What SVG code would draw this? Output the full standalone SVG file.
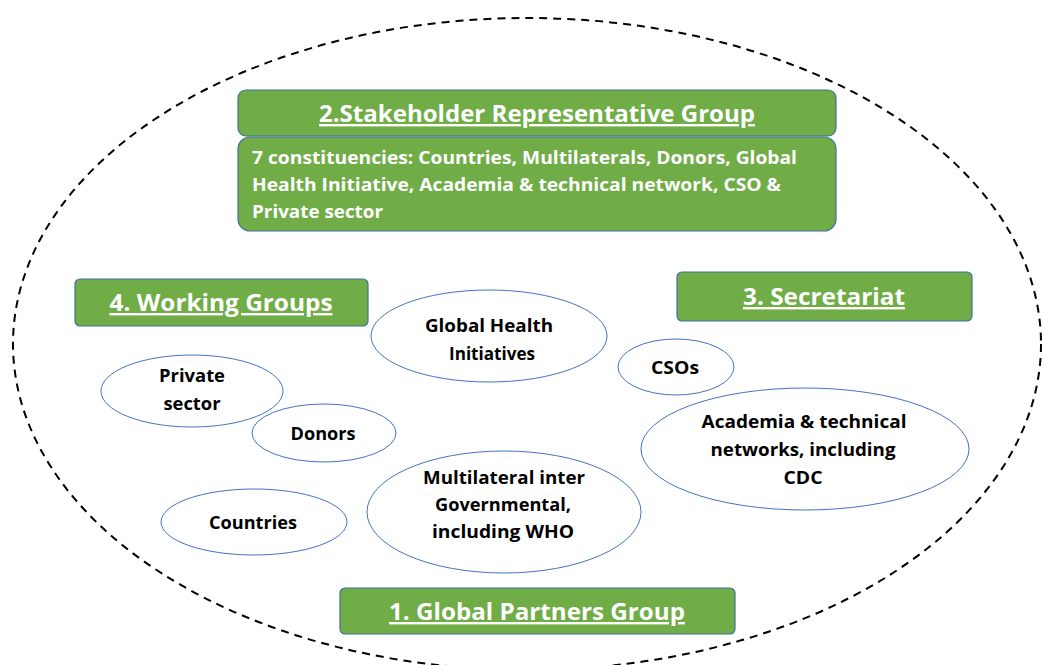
<svg xmlns="http://www.w3.org/2000/svg" width="1042" height="665" viewBox="0 0 1042 665">
<style>
.box{fill:#70AD47;stroke:#41719C;stroke-width:1.2}
.ttl{font-family:"Open Sans","Liberation Sans",sans-serif;font-weight:bold;font-size:24px;fill:#fff;text-anchor:middle;text-decoration:underline}
.body{font-family:"Open Sans","Liberation Sans",sans-serif;font-weight:bold;font-size:17.5px;fill:#fff}
.ell{fill:#fff;stroke:#4472C4;stroke-width:1}
.lbl{font-family:"Open Sans","Liberation Sans",sans-serif;font-weight:bold;font-size:18.5px;fill:#000;text-anchor:middle}
</style>
<rect width="1042" height="665" fill="#fff"/>
<g id="boundary">
<ellipse cx="527" cy="344" rx="514" ry="326" fill="none" stroke="#000" stroke-width="2" stroke-dasharray="8,6"/>
</g>
<g id="connectors"></g>
<g id="stakeholder">
<rect class="box" x="238" y="90" width="598" height="46" rx="8"/>
<text class="ttl" x="537" y="122" textLength="436" lengthAdjust="spacingAndGlyphs">2.Stakeholder Representative Group</text>
</g>
<g id="stakeholder-body">
<rect class="box" x="238" y="137" width="598" height="94" rx="12"/>
<text class="body" x="252" y="164" textLength="545" lengthAdjust="spacingAndGlyphs">7 constituencies: Countries, Multilaterals, Donors, Global</text>
<text class="body" x="252" y="191" textLength="529" lengthAdjust="spacingAndGlyphs">Health Initiative, Academia &amp; technical network, CSO &amp;</text>
<text class="body" x="252" y="218" textLength="131" lengthAdjust="spacingAndGlyphs">Private sector</text>
</g>
<g id="working-groups">
<rect class="box" x="75" y="279" width="293" height="47" rx="5"/>
<text class="ttl" x="221" y="311" textLength="223" lengthAdjust="spacingAndGlyphs">4. Working Groups</text>
</g>
<g id="secretariat">
<rect class="box" x="677" y="272" width="295" height="49" rx="5"/>
<text class="ttl" x="824" y="305" textLength="162" lengthAdjust="spacingAndGlyphs">3. Secretariat</text>
</g>
<g id="global-partners">
<rect class="box" x="340" y="588" width="395" height="46" rx="5"/>
<text class="ttl" x="537" y="620" textLength="296" lengthAdjust="spacingAndGlyphs">1. Global Partners Group</text>
</g>
<g id="ghi">
<ellipse class="ell" cx="489" cy="336" rx="118" ry="46"/>
<text class="lbl" x="489" y="332" textLength="128" lengthAdjust="spacingAndGlyphs">Global Health</text>
<text class="lbl" x="492" y="360" textLength="86" lengthAdjust="spacingAndGlyphs">Initiatives</text>
</g>
<g id="private">
<ellipse class="ell" cx="192" cy="391" rx="91" ry="36"/>
<text class="lbl" x="192" y="382" textLength="66" lengthAdjust="spacingAndGlyphs">Private</text>
<text class="lbl" x="192" y="410" textLength="57" lengthAdjust="spacingAndGlyphs">sector</text>
</g>
<g id="donors">
<ellipse class="ell" cx="324" cy="433" rx="72" ry="29"/>
<text class="lbl" x="323" y="440" textLength="65" lengthAdjust="spacingAndGlyphs">Donors</text>
</g>
<g id="csos">
<ellipse class="ell" cx="676" cy="367" rx="58" ry="28"/>
<text class="lbl" x="675" y="374" textLength="48" lengthAdjust="spacingAndGlyphs">CSOs</text>
</g>
<g id="academia">
<ellipse class="ell" cx="805" cy="449" rx="164" ry="61"/>
<text class="lbl" x="804" y="428" textLength="205" lengthAdjust="spacingAndGlyphs">Academia &amp; technical</text>
<text class="lbl" x="803" y="456" textLength="185" lengthAdjust="spacingAndGlyphs">networks, including</text>
<text class="lbl" x="803" y="484" textLength="39" lengthAdjust="spacingAndGlyphs">CDC</text>
</g>
<g id="multilateral">
<ellipse class="ell" cx="504" cy="512" rx="137" ry="61"/>
<text class="lbl" x="504" y="484" textLength="162" lengthAdjust="spacingAndGlyphs">Multilateral inter</text>
<text class="lbl" x="503" y="511" textLength="136" lengthAdjust="spacingAndGlyphs">Governmental,</text>
<text class="lbl" x="503" y="538" textLength="142" lengthAdjust="spacingAndGlyphs">including WHO</text>
</g>
<g id="countries">
<ellipse class="ell" cx="254" cy="522" rx="93" ry="33"/>
<text class="lbl" x="253" y="529" textLength="88" lengthAdjust="spacingAndGlyphs">Countries</text>
</g>
</svg>
